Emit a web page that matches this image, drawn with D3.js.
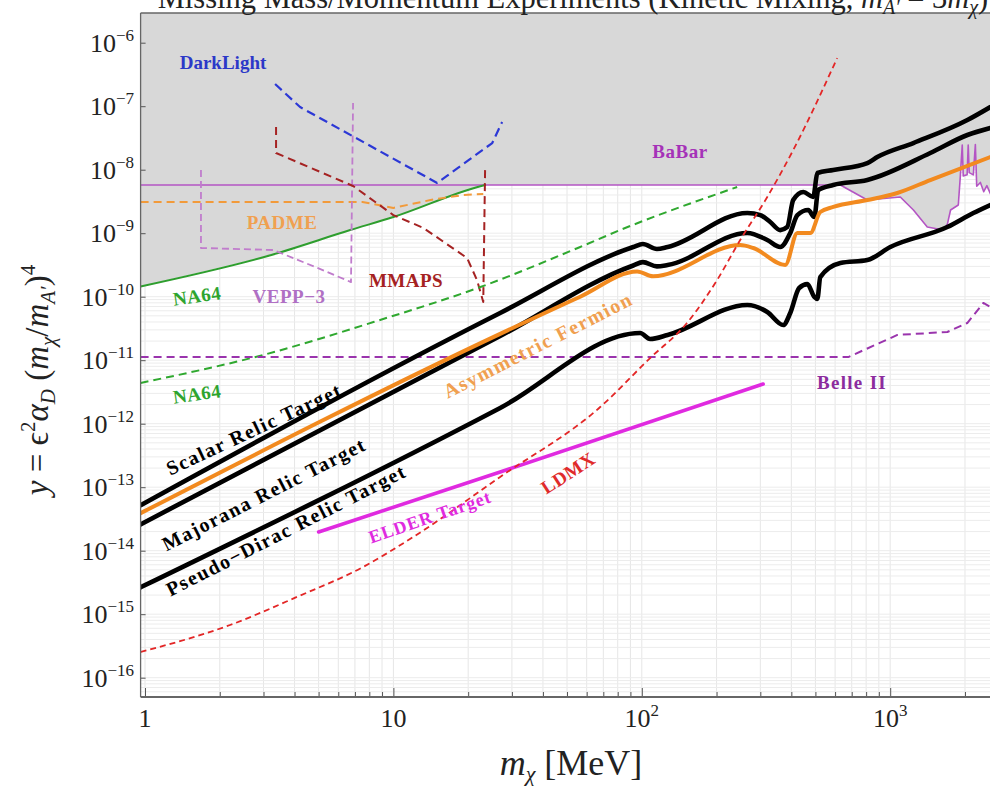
<!DOCTYPE html>
<html>
<head>
<meta charset="utf-8">
<script src="https://cdn.jsdelivr.net/npm/d3@7/dist/d3.min.js"></script>
<style>
  html, body { margin: 0; padding: 0; background: #ffffff; }
  svg { display: block; }
  text { font-family: "Liberation Serif", "Times New Roman", serif; }
</style>
</head>
<body>
<svg id="chart" width="990" height="787"></svg>
<script>
// ---- data: dark-matter mass m_chi [MeV], y = eps^2 alpha_D (m_chi/m_A')^4 ----
const xMajorTicks = [1, 10, 100, 1000];
const xTickLabels = [["1", ""], ["10", ""], ["10", "2"], ["10", "3"]];
const yDecades = [-6, -7, -8, -9, -10, -11, -12, -13, -14, -15, -16];

// existing limits
const na64Current = [[0.96, 1.45e-10], [3.2, 4.5e-10], [6.7, 1.12e-9], [10, 1.8e-9], [22.4, 5.5e-9], [23.4, 5.74e-9]];
const babar = [[0.96, 5.74e-9], [630, 5.74e-9], [809, 3.33e-9], [1098, 3.72e-9], [1240, 2.32e-9], [1410, 1.25e-9],
  [1636, 1.12e-9], [1700, 1.4e-9], [1750, 2.32e-9], [1880, 2.78e-9], [1916, 8.0e-9], [1950, 2.45e-8], [1968, 8.0e-9],
  [2040, 8.3e-9], [2061, 2.45e-8], [2080, 9.0e-9], [2161, 8.3e-9], [2202, 2.5e-8], [2230, 5.5e-9], [2307, 6.3e-9],
  [2380, 4.5e-9], [2450, 5.6e-9], [2531, 4.2e-9]];

// projections
const na64Projected = [[0.96, 4.38e-12], [2.99, 1.21e-11], [8.84, 4.3e-11], [22.4, 1.42e-10], [56.5, 6.07e-10], [81.8, 1.12e-9], [242, 5.33e-9]];
const padme = [[0.96, 3.1e-9], [7.5, 3.1e-9], [10, 2.5e-9], [14.1, 3.33e-9], [19.1, 4.0e-9], [23, 4.14e-9]];
const vepp3 = [[1.68, 9.9e-9], [1.68, 5.85e-10], [3.28, 5.44e-10], [4.84, 2.94e-10], [6.75, 1.7e-10], [6.88, 1.12e-7]];
const mmaps = [[3.37, 4.7e-8], [3.37, 1.83e-8], [6.88, 5.54e-9], [10, 1.93e-9], [13.2, 1.21e-9], [19.8, 4.07e-10],
  [21.7, 1.83e-10], [23.0, 8.26e-11], [23.4, 1.06e-8]];
const darkLight = [[3.34, 2.24e-7], [4.21, 9.7e-8], [15.0, 6.18e-9], [25.0, 2.63e-8], [27.4, 5.63e-8]];
const belle2 = [[0.96, 1.12e-11], [678, 1.12e-11], [1069, 2.5e-11], [1698, 2.78e-11], [2043, 3.85e-11], [2371, 7.96e-11], [2531, 6.9e-11]];
const ldmx = [[0.96, 2.54e-16], [2.2, 6.76e-16], [4.09, 1.87e-15], [7.55, 5.54e-15], [12.0, 1.64e-14], [26.9, 1.45e-13],
  [68, 1.83e-12], [108, 1.08e-11], [152, 3.85e-11], [201, 1.83e-10], [249, 7.82e-10], [320, 3.72e-9], [407, 2.04e-8], [612, 5.74e-7]];

// thermal targets
const scalarRelic = [[0.96, 5.2e-14], [26.9, 5.54e-11], [92.4, 6.06e-10], [101, 6.76e-10], [115, 5.64e-10], [127, 6.06e-10],
  [266, 2.08e-9], [300, 1.93e-9], [329, 1.5e-9], [361, 1.12e-9], [385, 1.25e-9], [407, 3.33e-9], [447, 4.45e-9],
  [490, 3.72e-9], [509, 8.87e-9], [590, 9.89e-9], [809, 1.27e-8], [887, 1.58e-8], [1239, 2.63e-8], [2045, 6.06e-8], [2531, 9.71e-8]];
const majoranaRelic = [[0.96, 2.6e-14], [26.9, 2.4e-11], [92.4, 3.1e-10], [101, 3.5e-10], [115, 3.0e-10], [127, 3.15e-10],
  [266, 1.01e-9], [320, 7.82e-10], [361, 6.06e-10], [396, 1.01e-9], [423, 1.93e-9], [468, 2.32e-9], [495, 1.8e-9],
  [513, 4.79e-9], [590, 5.74e-9], [809, 6.88e-9], [1450, 1.83e-8], [2045, 3.52e-8], [2531, 4.54e-8]];
const pseudoDiracRelic = [[0.96, 2.65e-15], [26.9, 1.77e-12], [98.5, 2.68e-11], [108, 2.16e-11], [127, 2.49e-11],
  [266, 7.4e-11], [320, 5.74e-11], [371, 3.58e-11], [396, 5.54e-11], [430, 1.37e-10], [464, 1.58e-10], [495, 9.89e-11],
  [509, 9.2e-11], [523, 2.04e-10], [630, 3.39e-10], [809, 3.78e-10], [1001, 6.06e-10], [1698, 1.25e-9], [2161, 2.08e-9], [2531, 2.78e-9]];
const asymmetricFermion = [[0.96, 3.9e-14], [26.9, 2.6e-11], [56.5, 1.0e-10], [95.8, 2.5e-10], [111, 2.1e-10],
  [249, 6.5e-10], [281, 5.85e-10], [378, 3.16e-10], [423, 1.01e-9], [477, 1.01e-9], [523, 2.16e-9], [590, 2.59e-9],
  [809, 3.33e-9], [1068, 4.3e-9], [1450, 6.88e-9], [2531, 1.58e-8]];
const elder = [[5.0, 1.97e-14], [26.9, 1.74e-13], [308, 4.22e-12]];

// ---- layout ----
const svg = d3.select("#chart");
const x = d3.scaleLog().domain([1, 1000]).range([145, 890.2]);
const y = d3.scaleLog().domain([1e-6, 1e-16]).range([42.7, 677.7]);
const frameL = x(0.96), frameR = 1012, frameT = 13, frameB = 697;

svg.append("defs").append("clipPath").attr("id", "plotClip")
  .append("rect").attr("x", frameL).attr("y", frameT).attr("width", frameR - frameL).attr("height", frameB - frameT);

const plot = svg.append("g").attr("clip-path", "url(#plotClip)");

// grid
const xGrid = [];
for (let e = 0; e <= 4; e++) for (let k = 1; k <= 9; k++) xGrid.push(k * Math.pow(10, e));
const yGrid = [];
for (let e = -17; e <= -6; e++) for (let k = 1; k <= 9; k++) yGrid.push(k * Math.pow(10, e));
plot.append("g").selectAll("line").data(xGrid).join("line")
  .attr("x1", d => x(d)).attr("x2", d => x(d)).attr("y1", frameT).attr("y2", frameB)
  .attr("stroke", "#e6e6e6").attr("stroke-width", 1);
plot.append("g").selectAll("line").data(yGrid).join("line")
  .attr("y1", d => y(d)).attr("y2", d => y(d)).attr("x1", frameL).attr("x2", frameR)
  .attr("stroke", "#ececec").attr("stroke-width", 1);

// excluded region: above NA64 and BaBar
const excluded = na64Current.concat(babar.filter(d => d[0] > 23.4));
plot.append("path").datum(excluded)
  .attr("d", d3.area().x(d => x(d[0])).y0(frameT).y1(d => y(d[1])))
  .attr("fill", "#d8d8d8");
plot.append("rect").attr("x", x(2531)).attr("y", frameT).attr("width", 30).attr("height", y(4.2e-9) - frameT).attr("fill", "#d8d8d8");

const lineLin = d3.line().x(d => x(d[0])).y(d => y(d[1]));
const lineSmooth = d3.line().x(d => x(d[0])).y(d => y(d[1])).curve(d3.curveMonotoneX);

function draw(data, color, width, dash, smooth) {
  plot.append("path").datum(data)
    .attr("d", smooth ? lineSmooth : lineLin)
    .attr("fill", "none").attr("stroke", color).attr("stroke-width", width)
    .attr("stroke-dasharray", dash || null)
    .attr("stroke-linejoin", "round").attr("stroke-linecap", dash ? "butt" : "round");
}

draw(babar, "#b455c4", 1.6, null, false);
draw(na64Current, "#2e9e2e", 2, null, true);
draw(padme, "#f29a3a", 2, "8,5", false);
draw(vepp3, "#c07ccc", 1.8, "7,4", false);
draw(mmaps, "#a52222", 2, "8,5", false);
draw(darkLight, "#2c38d6", 2.2, "9,5", false);
draw(na64Projected, "#2fa82f", 2, "8,5", true);
draw(belle2, "#9a34ad", 2, "8,5", false);

draw(scalarRelic, "#000000", 4.6, null, true);
draw(majoranaRelic, "#000000", 4.6, null, true);
draw(pseudoDiracRelic, "#000000", 4.6, null, true);
draw(asymmetricFermion, "#f28a1f", 4, null, true);
draw(elder, "#e02ae0", 3.6, null, true);
draw(ldmx, "#e32626", 1.8, "6,4", true);

// series labels
function label(txt, cx, cy, color, angle, size, spacing) {
  svg.append("text")
    .attr("transform", `translate(${cx},${cy}) rotate(${angle || 0})`)
    .attr("text-anchor", "middle").attr("dominant-baseline", "central")
    .attr("font-weight", "bold").attr("font-size", size || 19)
    .attr("letter-spacing", spacing || 0)
    .attr("fill", color).text(txt);
}
label("DarkLight", 223, 62, "#2c38c8", 0, 19);
label("BaBar", 680, 151, "#a532b8", 0, 19, 0.5);
label("PADME", 282, 222, "#f0a050", 0, 19, 0.5);
label("MMAPS", 406, 280, "#a52222", 0, 19, 0.5);
label("NA64", 197, 296, "#2ea42e", -8, 19, 0.5);
label("VEPP\u22123", 289, 296, "#b070c4", 0, 19, 0.5);
label("NA64", 197, 394, "#2ea42e", -8, 19, 0.5);
label("Belle II", 852, 382, "#8c2c9e", 0, 19, 1.3);
label("Scalar Relic Target", 254, 429, "#000000", -25, 20, 1.5);
label("Majorana Relic Target", 264, 494, "#000000", -27, 20, 1.5);
label("Pseudo\u2212Dirac Relic Target", 286, 530, "#000000", -27, 20, 1.5);
label("Asymmetric Fermion", 538, 345, "#f0a050", -27, 20, 1.5);
label("ELDER Target", 430, 517, "#e02ae0", -19, 18, 1);
label("LDMX", 568, 473, "#e02a2a", -33, 19, 0.5);

// axes
const axisG = svg.append("g");
const minorX = xGrid.filter(d => x(d) <= frameR && !xMajorTicks.includes(d));
axisG.append("g").attr("transform", `translate(0,${frameB})`)
  .call(d3.axisBottom(x).tickValues(minorX).tickSizeInner(-5).tickSizeOuter(0).tickFormat(""))
  .call(g => g.select(".domain").remove())
  .call(g => g.selectAll("line").attr("stroke", "#555"));
axisG.append("g").attr("transform", `translate(0,${frameB})`)
  .call(d3.axisBottom(x).tickValues(xMajorTicks).tickSizeInner(-9).tickSizeOuter(0).tickFormat(""))
  .call(g => g.select(".domain").remove())
  .call(g => g.selectAll("line").attr("stroke", "#555"));
axisG.append("g").attr("transform", `translate(${frameL},0)`)
  .call(d3.axisLeft(y).tickValues(yDecades.map(e => Math.pow(10, e))).tickSizeInner(-5).tickSizeOuter(0).tickFormat(""))
  .call(g => g.select(".domain").remove())
  .call(g => g.selectAll("line").attr("stroke", "#555"));

// frame
svg.append("line").attr("x1", frameL).attr("x2", frameL).attr("y1", frameT).attr("y2", frameB).attr("stroke", "#666").attr("stroke-width", 1.3);
svg.append("line").attr("x1", frameL).attr("x2", frameR).attr("y1", frameT).attr("y2", frameT).attr("stroke", "#666").attr("stroke-width", 1.3);
svg.append("line").attr("x1", frameL).attr("x2", frameR).attr("y1", frameB).attr("y2", frameB).attr("stroke", "#666").attr("stroke-width", 2);

// tick labels
xMajorTicks.forEach((v, i) => {
  const t = svg.append("text").attr("x", x(v)).attr("y", 727).attr("text-anchor", "middle")
    .attr("font-size", 26).attr("fill", "#222");
  t.append("tspan").text(xTickLabels[i][0]);
  if (xTickLabels[i][1]) t.append("tspan").attr("dy", -11).attr("font-size", 17).text(xTickLabels[i][1]);
});
yDecades.forEach(e => {
  const t = svg.append("text").attr("x", 134).attr("y", y(Math.pow(10, e)) + 9).attr("text-anchor", "end")
    .attr("font-size", 26).attr("fill", "#222");
  t.append("tspan").text("10");
  t.append("tspan").attr("dy", -11).attr("font-size", 17).text("\u2212" + Math.abs(e));
});

// axis titles
const xt = svg.append("text").attr("x", 571).attr("y", 775).attr("text-anchor", "middle").attr("font-size", 36).attr("fill", "#222");
xt.append("tspan").attr("font-style", "italic").text("m");
xt.append("tspan").attr("font-style", "italic").attr("font-size", 22).attr("dy", 6).text("\u03c7");
xt.append("tspan").attr("dy", -6).text(" [MeV]");

const yt = svg.append("text").attr("transform", "translate(48,380) rotate(-90)").attr("text-anchor", "middle")
  .attr("font-size", 33).attr("fill", "#222");
yt.append("tspan").attr("font-style", "italic").text("y");
yt.append("tspan").text(" = \u03f5");
yt.append("tspan").attr("font-size", 21).attr("dy", -13).text("2");
yt.append("tspan").attr("font-style", "italic").attr("dy", 13).text("\u03b1");
yt.append("tspan").attr("font-style", "italic").attr("font-size", 21).attr("dy", 7).text("D");
yt.append("tspan").attr("dy", -7).text(" (");
yt.append("tspan").attr("font-style", "italic").text("m");
yt.append("tspan").attr("font-style", "italic").attr("font-size", 21).attr("dy", 7).text("\u03c7");
yt.append("tspan").attr("dy", -7).text("/");
yt.append("tspan").attr("font-style", "italic").text("m");
yt.append("tspan").attr("font-style", "italic").attr("font-size", 21).attr("dy", 7).text("A\u2032");
yt.append("tspan").attr("dy", -7).text(")");
yt.append("tspan").attr("font-size", 21).attr("dy", -13).text("4");

// title (runs off the top edge)
const tt = svg.append("text").attr("x", 573).attr("y", 8).attr("text-anchor", "middle").attr("font-size", 30.5).attr("fill", "#222");
tt.append("tspan").text("Missing Mass/Momentum Experiments (Kinetic Mixing, ");
tt.append("tspan").attr("font-style", "italic").text("m");
tt.append("tspan").attr("font-style", "italic").attr("font-size", 20).attr("dy", 6).text("A\u2032");
tt.append("tspan").attr("dy", -6).text(" = 3");
tt.append("tspan").attr("font-style", "italic").text("m");
tt.append("tspan").attr("font-style", "italic").attr("font-size", 20).attr("dy", 6).text("\u03c7");
tt.append("tspan").attr("dy", -6).text(")");
</script>
</body>
</html>
